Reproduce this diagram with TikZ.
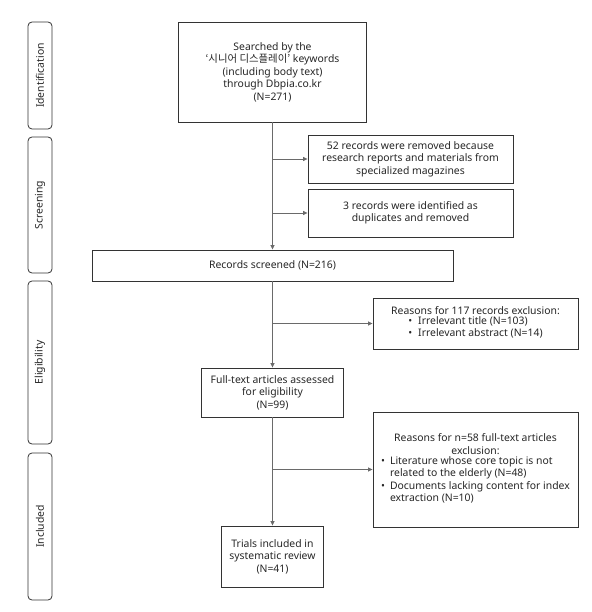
\documentclass[tikz,border=0pt]{standalone}
\usepackage{fontspec}
\setmainfont{Noto Sans}
\newfontfamily\krfont{Noto Sans CJK KR}
\usetikzlibrary{arrows.meta}
\definecolor{boxline}{HTML}{333333}
\definecolor{conline}{HTML}{6A6A6A}
\begin{document}
\begin{tikzpicture}[x=1pt,y=-1pt,
  every node/.style={font=\fontsize{10.4}{12.5}\selectfont, text=black!85},
  box/.style={draw=boxline, line width=0.9pt, align=center, inner sep=2pt},
  side/.style={draw=boxline, line width=0.8pt, rounded corners=4pt, rotate=90, inner sep=0pt, minimum height=24pt},
  con/.style={draw=conline, line width=0.7pt},
  arr/.style={con, -{Triangle[length=4.5pt,width=4pt]}}]
\useasboundingbox (0,0) rectangle (591,612);
% phase labels
\node[side, minimum width=107pt] (ident) at (40,75.5) {Identification};
\node[side, minimum width=136pt] (screen) at (40,205) {Screening};
\node[side, minimum width=163pt] (elig) at (40,362.5) {Eligibility};
\node[side, minimum width=147pt] (incl) at (40,526.5) {Included};
% main column
\node[box, minimum width=188pt, minimum height=100pt] (search) at (272.5,72)
  {Searched by the\\{\krfont ‘시니어 디스플레이’} keywords\\(including body text)\\through Dbpia.co.kr\\(N=271)};
\node[box, minimum width=361pt, minimum height=31pt] (screened) at (272.5,265.5) {Records screened (N=216)};
\node[box, minimum width=142pt, minimum height=49pt] (full) at (272.5,392.5)
  {Full-text articles assessed\\for eligibility\\(N=99)};
\node[box, minimum width=102pt, minimum height=61pt] (trials) at (272.5,556.5)
  {Trials included in\\systematic review\\(N=41)};
% side boxes
\node[box, minimum width=205pt, minimum height=48pt] (rem52) at (410.5,159)
  {52 records were removed because\\research reports and materials from\\specialized magazines};
\node[box, minimum width=205pt, minimum height=48pt] (dup3) at (410.5,213)
  {3 records were identified as\\duplicates and removed};
\node[box, minimum width=205pt, minimum height=51pt] (ex117) at (475.5,323.5)
  {Reasons for 117 records exclusion:\\
   \begin{tabular}{@{}l@{\hspace{6pt}}l@{}}
   \textbullet & Irrelevant title (N=103)\\
   \textbullet & Irrelevant abstract (N=14)
   \end{tabular}};
\node[box, minimum width=205pt, minimum height=115pt] (ex58) at (475.5,469.5)
  {Reasons for n=58 full-text articles\\exclusion:\\
   \begin{tabular}{@{}l@{\hspace{5pt}}l@{}}
   \textbullet & Literature whose core topic is not\\
   & related to the elderly (N=48)\\
   \textbullet & Documents lacking content for index\\
   & extraction (N=10)
   \end{tabular}};
% branch points
\coordinate (c52) at (272.5,159);
\coordinate (c3) at (272.5,213);
\coordinate (c117) at (272.5,323.5);
\coordinate (c58) at (272.5,469.5);
% connectors
\draw[arr] (search.south) -- (screened.north);
\draw[arr] (c52) -- (rem52.west);
\draw[arr] (c3) -- (dup3.west);
\draw[arr] (screened.south) -- (full.north);
\draw[arr] (c117) -- (ex117.west);
\draw[arr] (full.south) -- (trials.north);
\draw[arr] (c58) -- (ex58.west);
\end{tikzpicture}
\end{document}
